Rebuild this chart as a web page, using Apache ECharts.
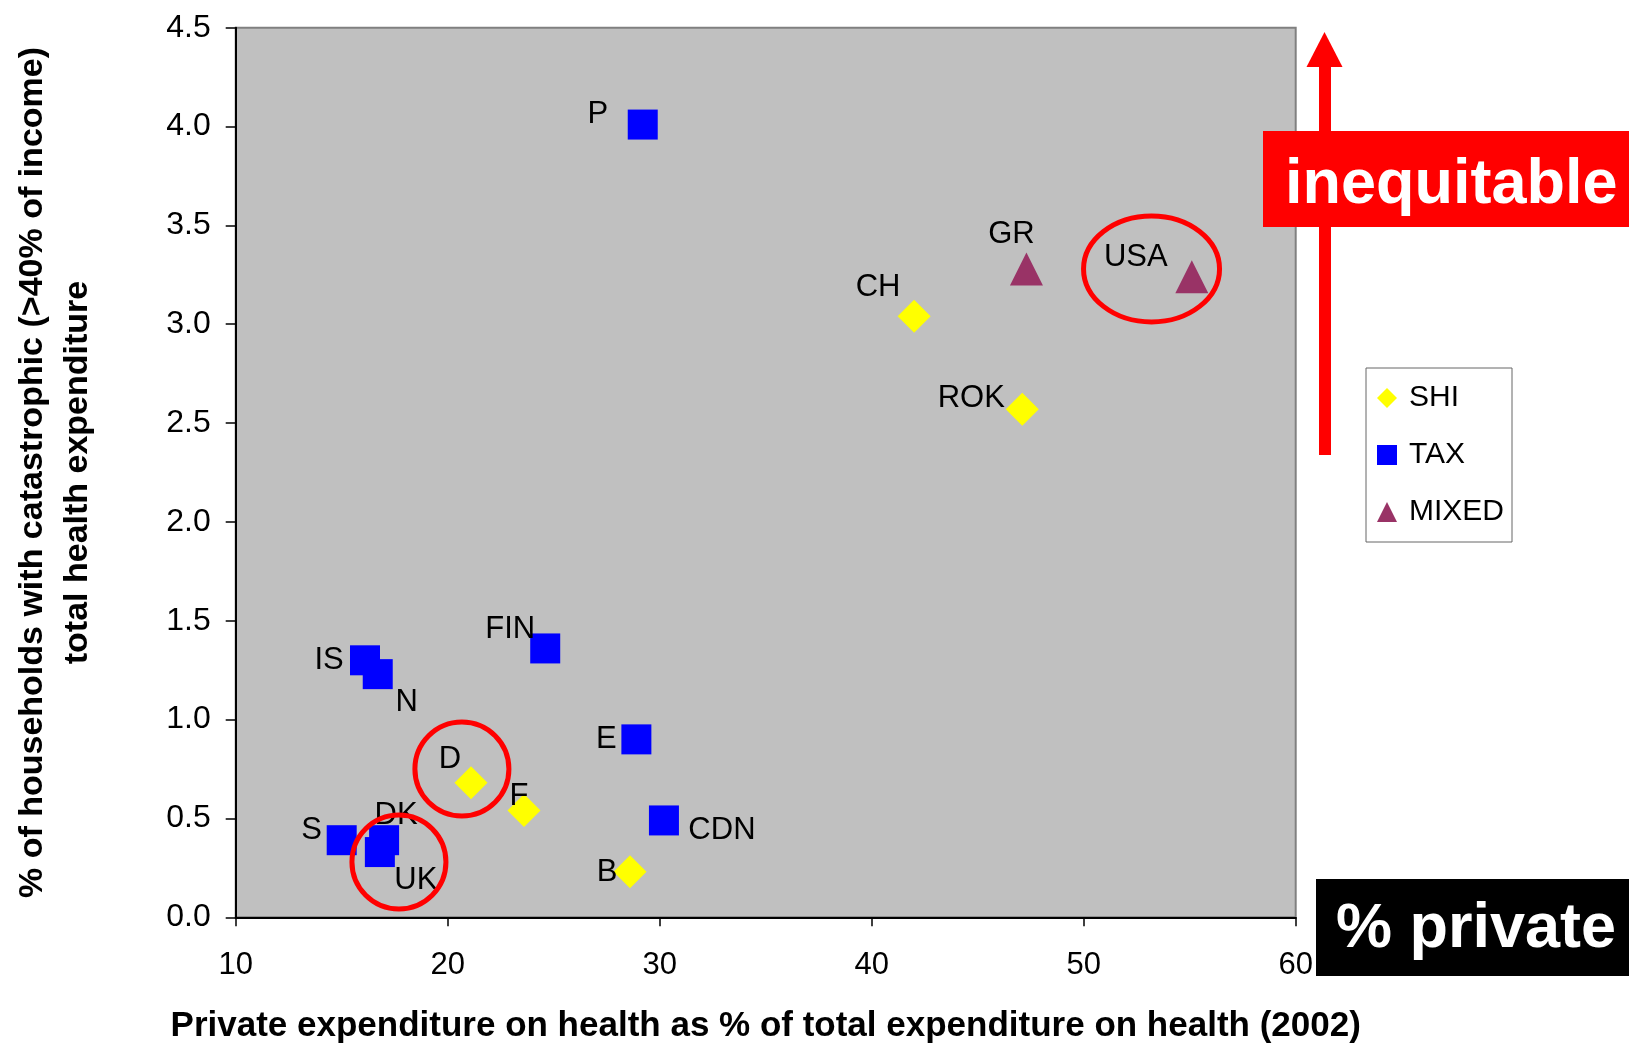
<!DOCTYPE html>
<html>
<head>
<meta charset="utf-8">
<title>Catastrophic health expenditure vs private share</title>
<script src="https://cdn.jsdelivr.net/npm/echarts@6/dist/echarts.min.js"></script>
<style>
  html, body { margin: 0; padding: 0; background: #ffffff; }
  #chart { width: 1629px; height: 1043px; }
</style>
</head>
<body>
<div id="chart"></div>
<script>
// Health financing systems: private share of health spending (x)
// against households facing catastrophic costs (y).
const shiNames = ['CH', 'ROK', 'D', 'F', 'B'];
const shiPrivate = [42.0, 47.1, 21.1, 23.6, 28.6];
const shiCatastrophic = [3.04, 2.57, 0.68, 0.54, 0.23];

const taxNames = ['P', 'FIN', 'IS', 'N', 'E', 'CDN', 'S', 'DK', 'UK'];
const taxPrivate = [29.2, 24.6, 16.1, 16.7, 28.9, 30.2, 15.0, 17.0, 16.8];
const taxCatastrophic = [4.01, 1.36, 1.30, 1.23, 0.90, 0.49, 0.39, 0.39, 0.33];

const mixedNames = ['GR', 'USA'];
const mixedPrivate = [47.3, 55.1];
const mixedCatastrophic = [3.28, 3.24];

const xTicks = [10, 20, 30, 40, 50, 60];
const yTicks = [0, 0.5, 1, 1.5, 2, 2.5, 3, 3.5, 4, 4.5];

// Where each country's name sits relative to its marker (px).
const labelPlacement = {
  P: [-45, -10], GR: [-15, -34], USA: [-56, -19], CH: [-36, -29],
  ROK: [-51, -11], FIN: [-35, -19], IS: [-36, 0], N: [29, 28],
  E: [-30, 0], D: [-21, -23], F: [-5, -14], CDN: [58, 10],
  S: [-30, -10], DK: [12, -25], UK: [36, 28], B: [-23, 1]
};

// Rings drawn around highlighted countries (centre in data units, radii in px).
const rings = [
  { x: 20.67, y: 0.75, rx: 47, ry: 47 },
  { x: 17.7, y: 0.28, rx: 47, ry: 47 },
  { x: 53.2, y: 3.28, rx: 68, ry: 53 }
];

const FONT = '"Liberation Sans", Arial, sans-serif';

function buildPoints(names, xs, ys) {
  return names.map((n, i) => ({
    name: n,
    value: [xs[i], ys[i]],
    label: { offset: labelPlacement[n] || [0, 0] }
  }));
}

const pointLabel = {
  show: true,
  position: 'inside',
  formatter: '{b}',
  color: '#000000',
  fontFamily: FONT,
  fontSize: 31
};

const chart = echarts.init(document.getElementById('chart'), null, { renderer: 'canvas' });

chart.setOption({
  backgroundColor: '#ffffff',
  animation: false,
  textStyle: { fontFamily: FONT },
  grid: {
    left: 235.7, top: 27.7, right: 333.3, bottom: 125.7,
    outerBoundsMode: 'none',
    containLabel: false,
    show: true,
    backgroundColor: '#C0C0C0',
    borderColor: '#808080',
    borderWidth: 2
  },
  xAxis: {
    type: 'value',
    min: xTicks[0], max: xTicks[xTicks.length - 1], interval: 10,
    name: 'Private expenditure on health as % of total expenditure on health (2002)',
    nameLocation: 'middle',
    nameGap: 92,
    nameTextStyle: { fontFamily: FONT, fontSize: 35, fontWeight: 'bold', color: '#000000' },
    axisLine: { show: true, onZero: false, lineStyle: { color: '#000000', width: 2 } },
    axisTick: { show: true, inside: false, length: 9, lineStyle: { color: '#000000', width: 1.5 } },
    axisLabel: { fontFamily: FONT, fontSize: 31, color: '#000000', margin: 33 },
    splitLine: { show: false }
  },
  yAxis: {
    type: 'value',
    min: yTicks[0], max: yTicks[yTicks.length - 1], interval: 0.5,
    name: '% of households with catastrophic (>40% of income)\ntotal health expenditure',
    nameLocation: 'middle',
    nameRotate: 90,
    nameGap: 136,
    nameTextStyle: { fontFamily: FONT, fontSize: 34, fontWeight: 'bold', color: '#000000', lineHeight: 45 },
    axisLine: { show: true, onZero: false, lineStyle: { color: '#000000', width: 2 } },
    axisTick: { show: true, inside: false, length: 10, lineStyle: { color: '#000000', width: 1.5 } },
    axisLabel: {
      fontFamily: FONT, fontSize: 32, color: '#000000', margin: 25,
      formatter: v => v.toFixed(1)
    },
    splitLine: { show: false }
  },
  legend: {
    left: 1366, top: 368,
    orient: 'vertical',
    data: ['SHI', 'TAX', 'MIXED'],
    backgroundColor: '#ffffff',
    borderColor: '#666666',
    borderWidth: 1,
    padding: [15, 8, 15, 11],
    itemWidth: 20,
    itemHeight: 20,
    itemGap: 27,
    textStyle: { fontFamily: FONT, fontSize: 30, color: '#000000', lineHeight: 30, padding: [0, 0, 0, 7] }
  },
  series: [
    {
      name: 'SHI', type: 'scatter', symbol: 'diamond', symbolSize: 33,
      itemStyle: { color: '#FFFF00', opacity: 1 },
      label: pointLabel,
      data: buildPoints(shiNames, shiPrivate, shiCatastrophic)
    },
    {
      name: 'TAX', type: 'scatter', symbol: 'rect', symbolSize: 30,
      itemStyle: { color: '#0000FF', opacity: 1 },
      label: pointLabel,
      data: buildPoints(taxNames, taxPrivate, taxCatastrophic)
    },
    {
      name: 'MIXED', type: 'scatter', symbol: 'triangle', symbolSize: 33,
      itemStyle: { color: '#993366', opacity: 1 },
      label: pointLabel,
      data: buildPoints(mixedNames, mixedPrivate, mixedCatastrophic)
    }
  ]
});

// Annotations: rings around highlighted countries, the "inequitable" arrow,
// and the "% private" tag.
const ringElements = rings.map(r => {
  const p = chart.convertToPixel({ gridIndex: 0 }, [r.x, r.y]);
  return {
    type: 'ellipse', z: 10,
    shape: { cx: p[0], cy: p[1], rx: r.rx, ry: r.ry },
    style: { fill: 'none', stroke: '#FF0000', lineWidth: 5 }
  };
});

chart.setOption({
  graphic: [
    ...ringElements,
    {
      type: 'rect', z: 10,
      shape: { x: 1319, y: 66, width: 12, height: 389 },
      style: { fill: '#FF0000' }
    },
    {
      type: 'polygon', z: 10,
      shape: { points: [[1306.5, 67], [1342.5, 67], [1324.5, 32]] },
      style: { fill: '#FF0000' }
    },
    {
      type: 'rect', z: 11,
      shape: { x: 1263, y: 131, width: 366, height: 96 },
      style: { fill: '#FF0000' }
    },
    {
      type: 'text', z: 12,
      x: 1285, y: 186,
      style: {
        text: 'inequitable', fill: '#ffffff',
        font: 'bold 63px ' + FONT,
        align: 'left', verticalAlign: 'middle'
      }
    },
    {
      type: 'rect', z: 11,
      shape: { x: 1316, y: 879, width: 313, height: 97 },
      style: { fill: '#000000' }
    },
    {
      type: 'text', z: 12,
      x: 1336, y: 930,
      style: {
        text: '% private', fill: '#ffffff',
        font: 'bold 63px ' + FONT,
        align: 'left', verticalAlign: 'middle'
      }
    }
  ]
});
</script>
</body>
</html>
